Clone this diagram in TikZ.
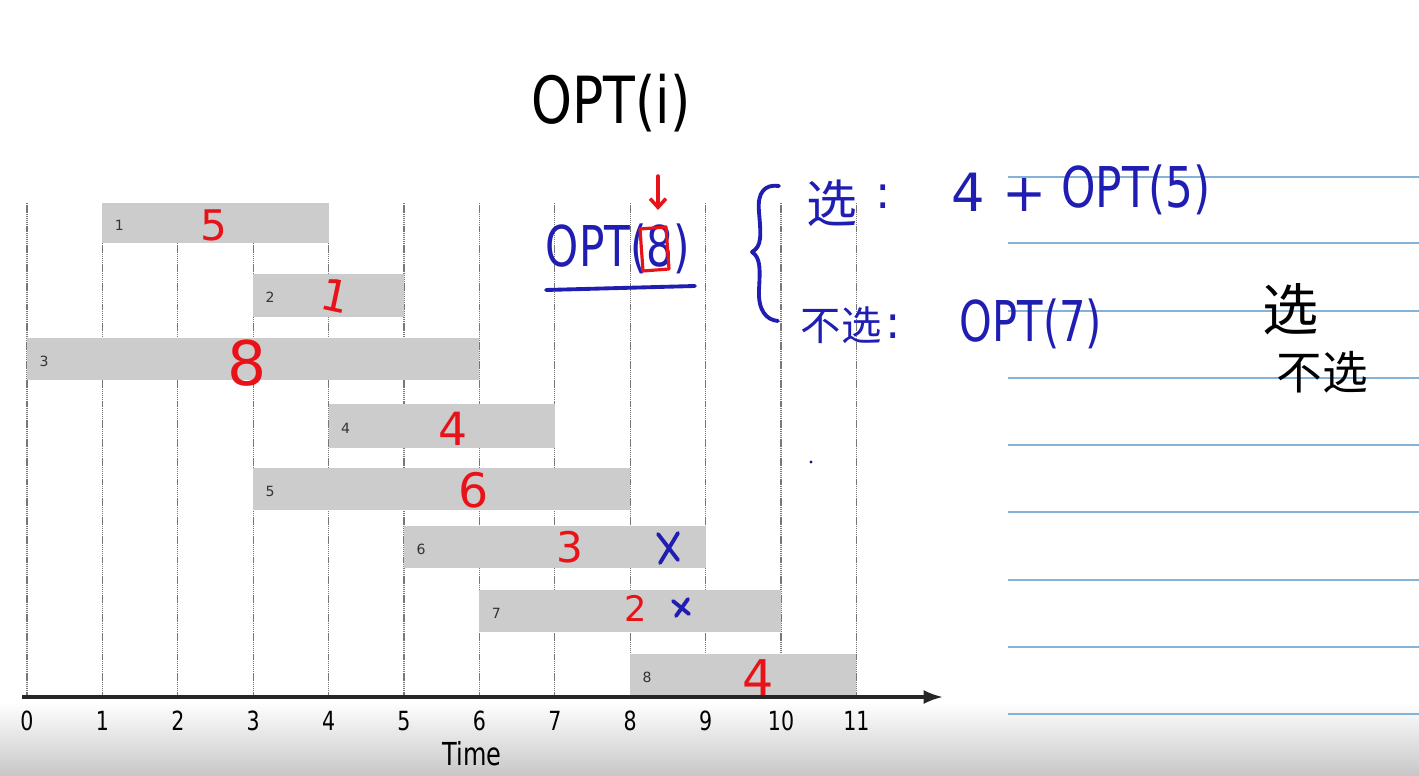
\documentclass[tikz,border=0pt]{standalone}
\usepackage{fontspec}
\setmainfont{DejaVu Sans}
\newfontfamily\cjk{Noto Sans CJK SC}
\usetikzlibrary{arrows.meta,calc}
\definecolor{barc}{RGB}{204,204,204}
\definecolor{inkred}{RGB}{232,18,24}
\definecolor{inkblue}{RGB}{32,30,178}
\definecolor{rulec}{RGB}{135,178,215}
\definecolor{gridc}{RGB}{120,120,120}
\tikzset{
  hw/.style={inner sep=0pt,font=\fontsize{#1}{#1}\selectfont},
  cj/.style={inner sep=0pt,font=\cjk\fontsize{#1}{#1}\selectfont},
  val/.style={hw=#1,text=inkred},
  blu/.style={hw=#1,text=inkblue},
  barlab/.style={inner sep=0pt,font=\fontsize{8pt}{8pt}\selectfont,text=black!80},
  ticklab/.style={inner sep=0pt,font=\fontsize{15pt}{15pt}\selectfont,xscale=0.78},
  gridline/.style={gridc,line width=0.7pt,dash pattern=on 0.8pt off 0.4pt},
  rule/.style={rulec,line width=1.1pt},
  bluepen/.style={inkblue,line width=2.2pt,line cap=round,line join=round},
  redpen/.style={inkred,line width=2pt,line cap=round,line join=round},
}
\begin{document}
\begin{tikzpicture}[x=0.02cm,y=-0.02cm]
\useasboundingbox (0,0) rectangle (1419,776);
% bottom gradient band
\shade[top color=white,bottom color=black!22] (0,702) rectangle (1419,776);
% ruled lines on the right
\foreach \yy in {177,243,311,378,445,512,580,647,714}
  \draw[rule] (1008,\yy) -- (1419,\yy);
% vertical grid lines
\foreach \i in {0,...,11}
  \draw[gridline] ({27+75.4*\i},203) -- ({27+75.4*\i},697);
% bars
\foreach \n/\s/\e/\ya/\yb in {1/1/4/203/243,2/3/5/274/317,3/0/6/338/380,4/4/7/404/448,5/3/8/468/510,6/5/9/526/568,7/6/10/590/632,8/8/11/654/696}{
  \fill[barc] ({27+75.4*\s},\ya) rectangle ({27+75.4*\e},\yb);
  \node[barlab] (bl\n) at ({27+75.4*\s+17},{\ya+(\yb-\ya)*0.55}) {\n};
}
% axis
\coordinate (ax0) at (22,697);
\coordinate (ax1) at (943,697);
\draw[black!85,line width=1.8pt,-{Latex[length=11pt,width=8pt]}] (ax0) -- (ax1);
\foreach \i in {0,...,11}
  \node[ticklab] (t\i) at ({27+75.4*\i},721) {\i};
\node[inner sep=0pt,font=\fontsize{18pt}{18pt}\selectfont,xscale=0.76] (time) at (472,754) {Time};
% red values
\node[val=24pt] (v1) at (214,225) {5};
\node[val=25pt,rotate=-12] (v2) at (335,296) {1};
\node[val=35pt] (v3) at (247,363) {8};
\node[val=26pt] (v4) at (453,429) {4};
\node[val=27pt] (v5) at (474,490) {6};
\node[val=24pt] (v6) at (570,547) {3};
\node[val=20pt] (v7) at (636,608) {2};
\node[val=28pt] (v8) at (758,678) {4};
% blue crosses
\draw[bluepen] (658,534) -- (678,560);
\draw[bluepen] (678,533) -- (660,563);
\draw[bluepen] (673,601) -- (689,614);
\draw[bluepen] (688,599) -- (676,616);
% title
\node[hw=37pt,xscale=0.8] (title) at (611,103) {OPT(i)};
% OPT(8)
\node[blu=32pt,xscale=0.75] (opt8) at (618,249) {OPT(8)};
\draw[redpen,line width=1.8pt] (640,229) -- (666,227) -- (669,269) -- (643,271) -- cycle;
\coordinate (arA) at (658,176);
\coordinate (arB) at (658,210);
\draw[redpen,-{Straight Barb[length=5pt,width=9pt]}] (arA) -- (arB);
\coordinate (ulA) at (546,290);
\coordinate (ulB) at (695,286);
\draw[bluepen] (ulA) -- (ulB);
% brace
\draw[bluepen] (779,186) .. controls (765,184) and (757,192) .. (759,212)
  .. controls (761,236) and (762,246) .. (752,252)
  .. controls (761,258) and (760,270) .. (759,290)
  .. controls (758,310) and (766,320) .. (778,321);
% choices
\node[cj=29pt,text=inkblue] (xuan1) at (832,203) {选};
\node[blu=26pt] (c1) at (883,197) {:};
\node[blu=30pt] (four) at (968,192) {4};
\node[blu=30pt] (plus) at (1025,195) {+};
\node[blu=32pt,xscale=0.78] (opt5) at (1136,190) {OPT(5)};
\node[cj=23pt,text=inkblue] (buxuan1) at (841,325) {不选};
\node[blu=26pt] (c2) at (893,327) {:};
\node[blu=32pt,xscale=0.74] (opt7) at (1031,324) {OPT(7)};
% right black notes
\node[cj=32pt] (xuan2) at (1291,309) {选};
\node[cj=26pt] (buxuan2) at (1322,372) {不选};
% dot
\fill[inkblue!70!black] (811,462) circle (1.6);
\end{tikzpicture}
\end{document}
